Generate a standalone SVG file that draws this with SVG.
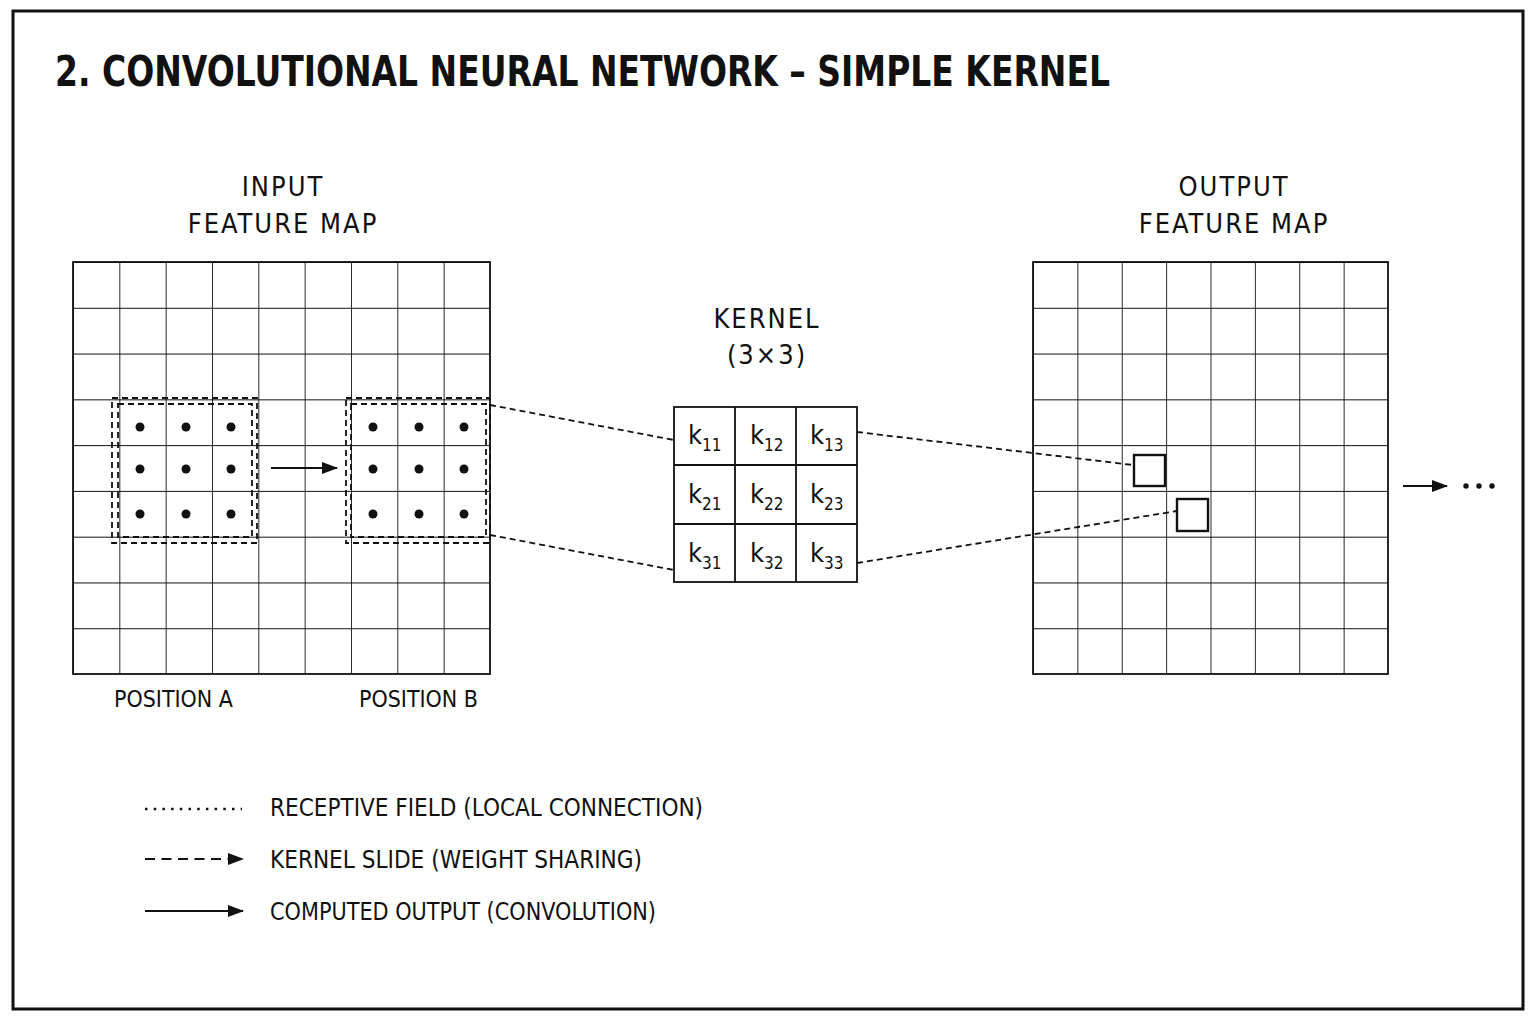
<svg xmlns="http://www.w3.org/2000/svg" width="1536" height="1024" viewBox="0 0 1536 1024">
<defs>
<style>
text{font-family:"DejaVu Sans","Liberation Sans",sans-serif;font-stretch:condensed;fill:#111}
.g{stroke:#111;stroke-width:1.8;fill:none}
.dash{stroke:#111;stroke-width:1.8;fill:none;stroke-dasharray:6 4}
.lbl{font-size:27px;letter-spacing:2px}
.k{font-size:27px}
.s{font-size:17px}
</style>
<marker id="ah" viewBox="0 0 16 12" refX="15" refY="6" markerWidth="16" markerHeight="12" markerUnits="userSpaceOnUse" orient="auto"><path d="M0,0 L16,6 L0,12 z" fill="#111"/></marker>
<pattern id="gin" x="73" y="262" width="46.33" height="45.78" patternUnits="userSpaceOnUse"><path d="M0,0 H46.33 M0,0 V45.78" stroke="#111" stroke-width="1.8" fill="none"/></pattern>
<pattern id="gout" x="1033" y="262" width="44.375" height="45.78" patternUnits="userSpaceOnUse"><path d="M0,0 H44.375 M0,0 V45.78" stroke="#111" stroke-width="1.8" fill="none"/></pattern>
</defs>
<rect x="0" y="0" width="1536" height="1024" fill="#fff"/>
<rect x="13" y="11" width="1510" height="998" fill="none" stroke="#111" stroke-width="3"/>
<text x="55" y="86" font-size="42" font-weight="bold" textLength="1055" lengthAdjust="spacingAndGlyphs">2. CONVOLUTIONAL NEURAL NETWORK – SIMPLE KERNEL</text>

<g id="input">
<text class="lbl" x="283" y="196" text-anchor="middle">INPUT</text>
<text class="lbl" x="283" y="233" text-anchor="middle">FEATURE MAP</text>
<rect x="73" y="262" width="417" height="412" fill="url(#gin)"/>
<rect x="73" y="262" width="417" height="412" class="g"/>
<g fill="#111">
<circle cx="140" cy="427" r="4.5"/><circle cx="186" cy="427" r="4.5"/><circle cx="231" cy="427" r="4.5"/>
<circle cx="140" cy="469" r="4.5"/><circle cx="186" cy="469" r="4.5"/><circle cx="231" cy="469" r="4.5"/>
<circle cx="140" cy="514" r="4.5"/><circle cx="186" cy="514" r="4.5"/><circle cx="231" cy="514" r="4.5"/>
<circle cx="373" cy="427" r="4.5"/><circle cx="419" cy="427" r="4.5"/><circle cx="464" cy="427" r="4.5"/>
<circle cx="373" cy="469" r="4.5"/><circle cx="419" cy="469" r="4.5"/><circle cx="464" cy="469" r="4.5"/>
<circle cx="373" cy="514" r="4.5"/><circle cx="419" cy="514" r="4.5"/><circle cx="464" cy="514" r="4.5"/>
</g>
<rect x="112" y="398" width="145" height="145" class="dash"/>
<rect x="118" y="404" width="134" height="133" class="dash"/>
<rect x="346" y="398" width="144" height="145" class="dash"/>
<rect x="351" y="404" width="135" height="133" class="dash"/>
<text x="114" y="707" font-size="23" textLength="119" lengthAdjust="spacingAndGlyphs">POSITION A</text>
<text x="359" y="707" font-size="23" textLength="119" lengthAdjust="spacingAndGlyphs">POSITION B</text>
</g>

<g id="kernel">
<text class="lbl" x="767" y="328" text-anchor="middle">KERNEL</text>
<text class="lbl" x="767" y="364" text-anchor="middle">(3×3)</text>
<rect x="674" y="407" width="183" height="175" class="g"/>
<path d="M735,407V582M796,407V582M674,465H857M674,524H857" class="g"/>
<text class="k" x="688" y="444">k<tspan class="s" dy="7">11</tspan></text>
<text class="k" x="750" y="444">k<tspan class="s" dy="7">12</tspan></text>
<text class="k" x="810" y="444">k<tspan class="s" dy="7">13</tspan></text>
<text class="k" x="688" y="503">k<tspan class="s" dy="7">21</tspan></text>
<text class="k" x="750" y="503">k<tspan class="s" dy="7">22</tspan></text>
<text class="k" x="810" y="503">k<tspan class="s" dy="7">23</tspan></text>
<text class="k" x="688" y="562">k<tspan class="s" dy="7">31</tspan></text>
<text class="k" x="750" y="562">k<tspan class="s" dy="7">32</tspan></text>
<text class="k" x="810" y="562">k<tspan class="s" dy="7">33</tspan></text>
</g>

<g id="output">
<text class="lbl" x="1234" y="196" text-anchor="middle">OUTPUT</text>
<text class="lbl" x="1234" y="233" text-anchor="middle">FEATURE MAP</text>
<rect x="1033" y="262" width="355" height="412" fill="url(#gout)"/>
<rect x="1033" y="262" width="355" height="412" class="g"/>
<rect x="1134" y="455" width="31" height="31" fill="#fff" stroke="#111" stroke-width="2.4"/>
<rect x="1177" y="499" width="31" height="32" fill="#fff" stroke="#111" stroke-width="2.4"/>
<g fill="#111"><circle cx="1466" cy="486" r="2.7"/><circle cx="1479" cy="486" r="2.7"/><circle cx="1492" cy="486" r="2.7"/></g>
</g>

<g id="connectors">
<line x1="271" y1="468" x2="337" y2="468" stroke="#111" stroke-width="2.2" marker-end="url(#ah)"/>
<path d="M490,405L674,440M490,535L674,570M857,432L1133,465M857,563L1177,511" class="dash" stroke-dasharray="4 3"/>
<line x1="1403" y1="486" x2="1447" y2="486" stroke="#111" stroke-width="2.2" marker-end="url(#ah)"/>
</g>

<g id="legend">
<line x1="145" y1="809" x2="242" y2="809" stroke="#111" stroke-width="2.5" stroke-dasharray="2.5 6.2"/>
<line x1="145" y1="859" x2="243" y2="859" stroke="#111" stroke-width="2.2" stroke-dasharray="10 6.5" marker-end="url(#ah)"/>
<line x1="145" y1="911" x2="243" y2="911" stroke="#111" stroke-width="2.2" marker-end="url(#ah)"/>
<text x="270" y="816" font-size="24" textLength="433" lengthAdjust="spacingAndGlyphs">RECEPTIVE FIELD (LOCAL CONNECTION)</text>
<text x="270" y="868" font-size="24" textLength="372" lengthAdjust="spacingAndGlyphs">KERNEL SLIDE (WEIGHT SHARING)</text>
<text x="270" y="920" font-size="24" textLength="386" lengthAdjust="spacingAndGlyphs">COMPUTED OUTPUT (CONVOLUTION)</text>
</g>
</svg>
